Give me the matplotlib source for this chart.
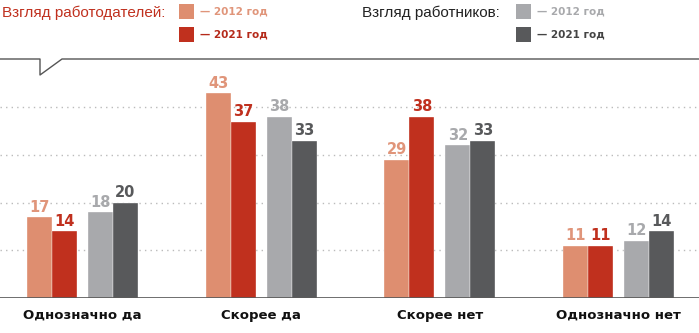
import matplotlib
matplotlib.use("Agg")
import matplotlib.pyplot as plt
from matplotlib.lines import Line2D
from matplotlib.patches import Rectangle
import numpy as np

categories = ["Однозначно да", "Скорее да", "Скорее нет", "Однозначно нет"]
emp_2012 = [17, 43, 29, 11]
emp_2021 = [14, 37, 38, 11]
wrk_2012 = [18, 38, 32, 12]
wrk_2021 = [20, 33, 33, 14]
series = [emp_2012, emp_2021, wrk_2012, wrk_2021]
colors = ["#de8e70", "#c0301e", "#a8a9ac", "#58595b"]
label_colors = ["#e0957a", "#c0301e", "#a8a9ac", "#58595b"]
grid_vals = [10, 20, 30, 40]

W, H = 699, 333
fig = plt.figure(figsize=(W / 100, H / 100), dpi=100)
base_px = 298
top_px = 59
ax = fig.add_axes([0, (H - base_px) / H, 1, (base_px - top_px) / H])
ax.set_ylim(0, (base_px - top_px) / 4.77)
spacing = 178.7
ax.set_xlim(-82.5 / spacing, (W - 82.5) / spacing)
ax.axis("off")

w = 25 / spacing
g = 11 / spacing
offsets = [-(1.5 * w + g / 2), -(0.5 * w + g / 2), 0.5 * w + g / 2, 1.5 * w + g / 2]
x = np.arange(len(categories))

for gv in grid_vals:
    ax.axhline(gv, color="#bbbbbb", lw=1, ls=(0, (1, 3)), zorder=0)

for s, off, c, lc in zip(series, offsets, colors, label_colors):
    ax.bar(x + off, s, width=w, color=c, edgecolor="#ffffff", linewidth=0.25, zorder=2)
    for xi, v in zip(x, s):
        ax.text(xi + off, v + 0.5, str(v), ha="center", va="bottom",
                fontsize=10.5, fontweight="bold", color=lc, zorder=3)

ax.axhline(0, color="#555555", lw=1.2, zorder=4)

for xi, c in zip(x, categories):
    ax.text(xi, -2.3, c, ha="center", va="top", fontsize=9.5,
            fontweight="bold", color="#111111")

def fx(px):
    return px / W

def fy(py):
    return 1 - py / H

fig.add_artist(Line2D([fx(0), fx(40), fx(40), fx(62), fx(W)],
                      [fy(59), fy(59), fy(75), fy(59), fy(59)],
                      color="#555555", lw=1.0))

fig.text(fx(2), fy(17), "Взгляд работодателей:", fontsize=11,
         family="Liberation Sans", color="#c0301e", va="baseline", ha="left")
fig.text(fx(362), fy(17), "Взгляд работников:", fontsize=11,
         family="Liberation Sans", color="#222222", va="baseline", ha="left")

leg = [(179, 4, colors[0], "— 2012 год", label_colors[0]),
       (179, 27, colors[1], "— 2021 год", "#b52a1a"),
       (516, 4, colors[2], "— 2012 год", colors[2]),
       (516, 27, colors[3], "— 2021 год", "#444444")]
for px, py, c, t, tc in leg:
    fig.add_artist(Rectangle((fx(px), fy(py + 15)), 15 / W, 15 / H,
                             facecolor=c, edgecolor="none",
                             transform=fig.transFigure))
    fig.text(fx(px + 21), fy(py + 10.5), t, fontsize=7.5, fontweight="bold",
             color=tc, va="baseline", ha="left")

fig.savefig("out.png", dpi=100)
